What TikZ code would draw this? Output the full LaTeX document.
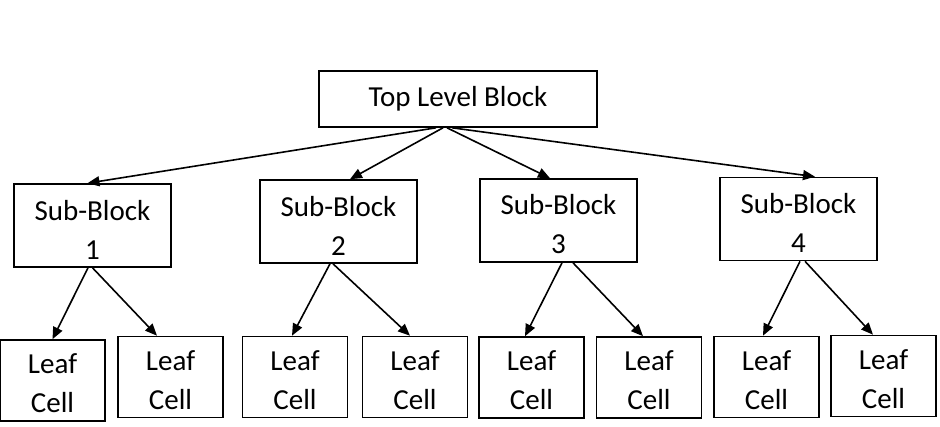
\documentclass[tikz,border=0pt]{standalone}
\usepackage{fontspec}
\setmainfont{Carlito}
\usetikzlibrary{arrows.meta}
\begin{document}
\begin{tikzpicture}[x=1pt,y=-1pt,
  box/.style={draw=black, line width=1.6pt, inner sep=0pt},
  txt/.style={align=center, inner sep=0pt, font=\fontsize{29}{39}\selectfont},
  topbox/.style={box, txt, minimum width=278pt, minimum height=56pt},
  subbox/.style={box, minimum width=157pt, minimum height=83pt},
  leafbox/.style={box, minimum width=105pt, minimum height=81pt},
  subtxt/.style={txt, yshift=-4pt},
  leaftxt/.style={txt, yshift=-3pt},
  conn/.style={line width=1.6pt, -{Triangle[length=12pt,width=10pt]}}]
\useasboundingbox (0,0) rectangle (940,426);
\node[topbox] (top) at (458,99) {Top Level Block};
\node[subbox] (s1) at (92.5,225.5) {};
\node[subbox] (s2) at (338.5,221.5) {};
\node[subbox] (s3) at (558.5,220.5) {};
\node[subbox] (s4) at (798.5,219) {};
\node[subtxt] (t1) at (s1.center) {Sub-Block\\1};
\node[subtxt] (t2) at (s2.center) {Sub-Block\\2};
\node[subtxt] (t3) at (s3.center) {Sub-Block\\3};
\node[subtxt] (t4) at (s4.center) {Sub-Block\\4};
\node[leafbox] (l1) at (52.5,380.5) {};
\node[leafbox] (l2) at (170.5,377) {};
\node[leafbox] (l3) at (295,377) {};
\node[leafbox] (l4) at (415,377) {};
\node[leafbox] (l5) at (531.5,377.5) {};
\node[leafbox] (l6) at (649,377.5) {};
\node[leafbox] (l7) at (766.5,377) {};
\node[leafbox] (l8) at (883.5,376) {};
\foreach \i in {1,...,8} {\node[leaftxt] (lt\i) at (l\i.center) {Leaf\\Cell};}
\draw[conn] ([xshift=-22pt]top.south) -- ([xshift=-5pt]s1.north);
\draw[conn] ([xshift=-15pt]top.south) -- ([xshift=11.5pt]s2.north);
\draw[conn] ([xshift=-11pt]top.south) -- ([xshift=-8.5pt]s3.north);
\draw[conn] ([xshift=-6pt]top.south) -- ([xshift=16.5pt]s4.north);
\draw[conn] ([xshift=-4.5pt]s1.south) -- (l1.north);
\draw[conn] (s1.south) -- ([xshift=-13.5pt]l2.north);
\draw[conn] ([xshift=-8.5pt]s2.south) -- ([xshift=-3pt]l3.north);
\draw[conn] ([xshift=-5.5pt]s2.south) -- ([xshift=-5pt]l4.north);
\draw[conn] ([xshift=3.5pt]s3.south) -- ([xshift=-6.5pt]l5.north);
\draw[conn] ([xshift=14.5pt]s3.south) -- ([xshift=-6pt]l6.north);
\draw[conn] ([xshift=1.5pt]s4.south) -- ([xshift=-3.5pt]l7.north);
\draw[conn] ([xshift=6.5pt]s4.south) -- ([xshift=-10.5pt]l8.north);
\end{tikzpicture}
\end{document}
